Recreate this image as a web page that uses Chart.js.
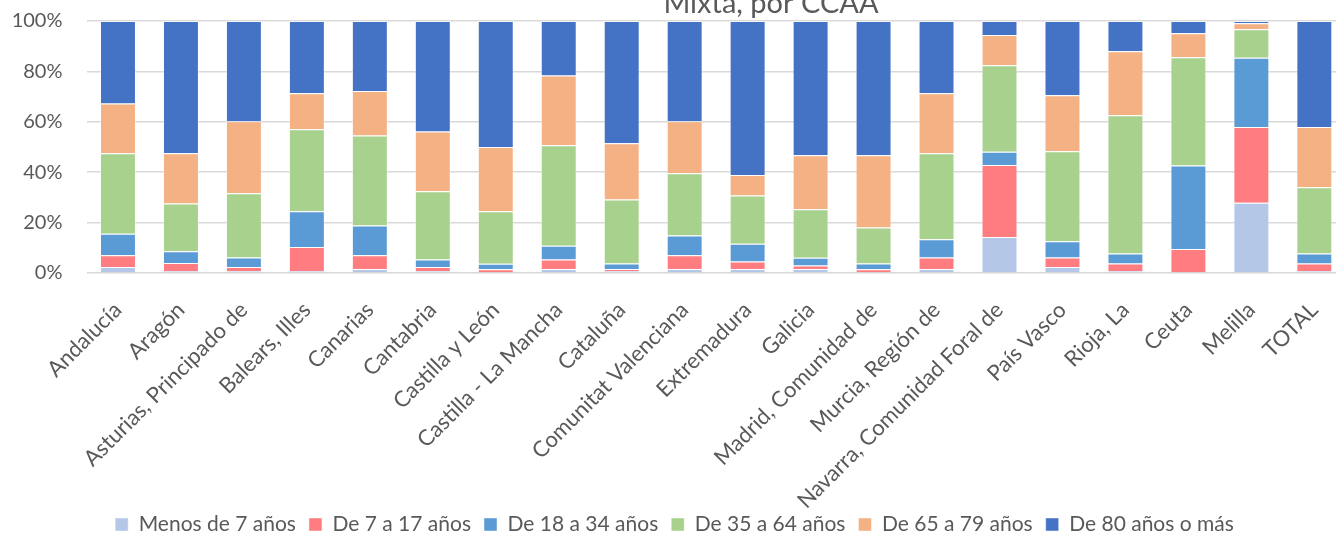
<!DOCTYPE html>
<html>
<head>
<meta charset="utf-8">
<script src="https://cdn.jsdelivr.net/npm/chart.js@4.4.1/dist/chart.umd.min.js"></script>
<style>
  html, body { margin: 0; padding: 0; background: #ffffff; overflow: hidden; width: 1336px; height: 535px; }
  #wrap { position: relative; width: 1349px; height: 545px; }
</style>
</head>
<body>
<div id="wrap"><canvas id="c"></canvas></div>
<script>
const categories = ["Andalucía", "Aragón", "Asturias, Principado de", "Balears, Illes", "Canarias", "Cantabria",
  "Castilla y León", "Castilla - La Mancha", "Cataluña", "Comunitat Valenciana", "Extremadura", "Galicia",
  "Madrid, Comunidad de", "Murcia, Región de", "Navarra, Comunidad Foral de", "País Vasco", "Rioja, La",
  "Ceuta", "Melilla", "TOTAL"];

const seriesNames = ["Menos de 7 años", "De 7 a 17 años", "De 18 a 34 años", "De 35 a 64 años", "De 65 a 79 años", "De 80 años o más"];

const menos7   = [2.4, 0.8, 0.8, 0.8, 1.6, 0.8, 0.0, 1.6, 0.8, 1.6, 1.6, 1.6, 0.0, 1.6, 14.3, 2.4, 0.8, 0.0, 27.9, 0.8];
const de7a17   = [4.6, 3.2, 1.6, 9.5, 5.4, 1.6, 1.5, 3.8, 0.8, 5.4, 3.0, 1.4, 1.5, 4.6, 28.6, 3.8, 3.0, 9.5, 30.0, 3.0];
const de18a34  = [8.6, 4.6, 3.8, 14.2, 11.8, 3.0, 2.2, 5.4, 2.2, 7.9, 7.0, 3.1, 2.3, 7.2, 5.2, 6.4, 3.9, 33.2, 27.5, 3.9];
const de35a64  = [31.9, 19.0, 25.4, 32.5, 35.8, 27.0, 20.8, 39.9, 25.4, 24.7, 19.2, 19.2, 14.3, 34.1, 34.3, 35.7, 54.9, 42.9, 11.3, 26.3];
const de65a79  = [19.8, 19.9, 28.6, 14.3, 17.6, 23.8, 25.5, 27.7, 22.3, 20.6, 8.1, 21.4, 28.6, 23.8, 12.0, 22.2, 25.4, 9.5, 2.4, 23.9];
const de80     = [32.7, 52.5, 39.8, 28.7, 27.8, 43.8, 50.0, 21.6, 48.5, 39.8, 61.1, 53.3, 53.3, 28.7, 5.6, 29.5, 12.0, 4.9, 0.9, 42.1];

const yTicks = [0, 20, 40, 60, 80, 100];
const titleText = "Mixta, por CCAA";

const colors = ["#B4C7E7", "#FF7C80", "#5B9BD5", "#A9D18E", "#F4B183", "#4472C4"];
const seriesData = [menos7, de7a17, de18a34, de35a64, de65a79, de80];

const textColor = "#595959";
const fontFamily = "Lato, 'Open Sans', sans-serif";

const titlePlugin = {
  id: 'cutTitle',
  afterDraw(chart) {
    const ctx = chart.ctx;
    ctx.save();
    ctx.fillStyle = textColor;
    ctx.font = "29px " + fontFamily;
    ctx.textAlign = "center";
    ctx.textBaseline = "alphabetic";
    ctx.fillText(titleText, 771, 13);
    ctx.restore();
  }
};

new Chart(document.getElementById('c'), {
  type: 'bar',
  data: {
    labels: categories,
    datasets: seriesNames.map((name, i) => ({
      label: name,
      data: seriesData[i],
      backgroundColor: colors[i],
      borderColor: 'rgba(255,255,255,0.45)',
      borderWidth: 1,
      categoryPercentage: 1.0,
      barPercentage: 0.571
    }))
  },
  options: {
    responsive: true,
    maintainAspectRatio: false,
    animation: false,
    layout: { padding: { top: 21, left: 0, right: 0, bottom: 0 } },
    plugins: {
      title: { display: false },
      tooltip: { enabled: false },
      legend: {
        position: 'bottom',
        labels: {
          color: textColor,
          font: { family: fontFamily, size: 21 },
          boxWidth: 13,
          boxHeight: 13,
          padding: 13
        }
      }
    },
    scales: {
      x: {
        stacked: true,
        grid: { display: false },
        border: { display: false },
        ticks: {
          color: textColor,
          font: { family: fontFamily, size: 22 },
          maxRotation: 45,
          minRotation: 45,
          autoSkip: false,
          padding: 16
        },
        afterFit(scale) {
          scale.height = 228;
          scale._computeLabelArea = () => undefined;
        }
      },
      y: {
        stacked: true,
        min: 0,
        max: 100,
        afterBuildTicks(scale) { scale.ticks = yTicks.map(v => ({ value: v })); },
        ticks: {
          color: textColor,
          font: { family: fontFamily, size: 20 },
          padding: 0,
          callback: (v) => v + '%'
        },
        grid: { color: '#D9D9D9', lineWidth: 1.5, drawTicks: true, tickLength: 24, tickColor: 'rgba(0,0,0,0)' },
        border: { display: false },
        afterFit(scale) { scale.width = 86.5; }
      }
    }
  },
  plugins: [titlePlugin]
});
</script>
</body>
</html>
